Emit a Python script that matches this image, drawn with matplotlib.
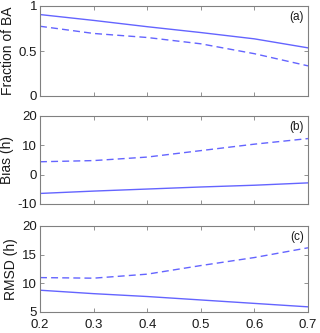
import matplotlib
matplotlib.use("Agg")
import matplotlib.pyplot as plt

x = [0.2, 0.3, 0.4, 0.5, 0.6, 0.7]
frac_solid = [0.905, 0.84, 0.77, 0.705, 0.635, 0.535]
frac_dash = [0.775, 0.695, 0.65, 0.58, 0.47, 0.335]
bias_solid = [-6.4, -5.6, -4.9, -4.2, -3.6, -2.8]
bias_dash = [4.4, 4.8, 6.0, 8.2, 10.4, 12.3]
rmsd_solid = [8.8, 8.2, 7.7, 7.1, 6.5, 5.9]
rmsd_dash = [11.0, 10.9, 11.6, 13.1, 14.5, 16.2]

ylabels = ["Fraction of BA", "Bias (h)", "RMSD (h)"]
panel = ["(a)", "(b)", "(c)"]
ylims = [(0, 1), (-10, 20), (5, 20)]
yticks = [[0, 0.5, 1], [-10, 0, 10, 20], [5, 10, 15, 20]]
yticklabels = [["0", "0.5", "1"], ["-10", "0", "10", "20"], ["5", "10", "15", "20"]]
xticks = [0.2, 0.3, 0.4, 0.5, 0.6, 0.7]

plt.rcParams['font.family'] = ['Liberation Sans', 'DejaVu Sans']
color = '#6464ff'
gray = '#1a1a1a'

fig = plt.figure(figsize=(3.2, 3.33), dpi=100)
tops = [6, 116, 226]
bots = [96, 204, 312]
W, H = 320, 333
series = [(frac_solid, frac_dash), (bias_solid, bias_dash), (rmsd_solid, rmsd_dash)]
for i in range(3):
    ax = fig.add_axes([40 / W, 1 - bots[i] / H, (308 - 40) / W, (bots[i] - tops[i]) / H])
    s, d = series[i]
    ax.plot(x, s, color=color, lw=1.0)
    ax.plot(x, d, color=color, lw=1.0, ls=(0, (5, 3)))
    ax.set_xlim(0.2, 0.7)
    ax.set_ylim(*ylims[i])
    ax.set_yticks(yticks[i])
    ax.set_yticklabels(yticklabels[i])
    ax.set_xticks(xticks)
    if i < 2:
        ax.set_xticklabels([])
    else:
        ax.set_xticklabels([f"{v:.1f}" for v in xticks])
    ax.tick_params(direction='in', top=True, right=True, length=3, width=0.6,
                   colors='#808080', labelcolor=gray, labelsize=9.5)
    ax.tick_params(axis='y', pad=2)
    ax.tick_params(axis='x', pad=5)
    for sp in ax.spines.values():
        sp.set_color('#808080')
        sp.set_linewidth(0.8)
    ax.set_ylabel(ylabels[i], fontsize=10, color=gray, labelpad=3)
    ax.text(0.985, 0.94, panel[i], transform=ax.transAxes, ha='right', va='top',
            fontsize=8.5, color=gray)

fig.savefig("out.png", dpi=100)
